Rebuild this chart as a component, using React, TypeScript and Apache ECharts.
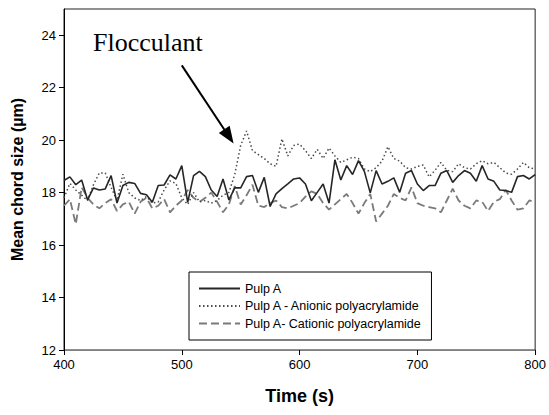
import React, { useEffect, useRef } from "react";
import * as echarts from "echarts";

const times = [
  400, 405, 410, 415, 420, 425, 430, 435, 440, 445,
  450, 455, 460, 465, 470, 475, 480, 485, 490, 495,
  500, 505, 510, 515, 520, 525, 530, 535, 540, 545,
  550, 555, 560, 565, 570, 575, 580, 585, 590, 595,
  600, 605, 610, 615, 620, 625, 630, 635, 640, 645,
  650, 655, 660, 665, 670, 675, 680, 685, 690, 695,
  700, 705, 710, 715, 720, 725, 730, 735, 740, 745,
  750, 755, 760, 765, 770, 775, 780, 785, 790, 795,
  800,
];

const pulpA = [
  18.46, 18.6, 18.3, 18.48, 17.72, 18.18, 18.1, 18.14, 18.65, 17.6,
  18.27, 18.39, 18.35, 17.97, 17.92, 17.63, 18.27, 18.29, 18.68, 18.52,
  19.03, 17.63, 18.65, 18.81, 18.61, 18.1, 17.85, 18.52, 17.72, 18.18,
  18.18, 18.61, 18.65, 18.01, 18.58, 17.47, 17.95, 18.15, 18.33, 18.52,
  18.56, 18.33, 17.69, 18.01, 18.33, 17.6, 19.25, 18.48, 19.03, 18.69,
  19.22, 18.81, 17.99, 18.84, 18.33, 18.43, 18.56, 18.01, 18.74, 18.84,
  18.33, 18.08, 18.27, 18.27, 18.74, 18.84, 18.39, 18.65, 18.84, 18.74,
  18.43, 19.03, 18.52, 18.43, 18.1, 18.08, 18.01, 18.61, 18.65, 18.52,
  18.69,
];

const anionic = [
  17.8, 18.35, 18.1, 17.9, 17.7, 18.3, 18.75, 18.75, 18.2, 17.7,
  18.7, 18.0, 17.8, 17.7, 17.85, 17.6, 17.65, 18.1, 18.45, 18.35,
  17.8, 17.55, 18.0, 17.65, 17.7, 17.6, 17.7, 17.9, 18.0, 18.7,
  19.8, 20.35, 19.6, 19.45, 19.3, 19.1, 19.0, 20.05, 19.4, 19.8,
  19.85, 19.6, 19.3, 19.65, 19.3, 19.7, 19.4, 19.15, 19.25, 19.35,
  19.3, 18.9, 18.8, 18.95, 19.2, 19.75, 19.3, 19.2, 18.95, 18.9,
  19.0, 19.05, 18.6, 18.85, 19.15, 18.85, 18.8, 19.1, 18.95, 18.9,
  19.1, 19.22, 19.1, 19.15, 18.95, 18.75, 18.7, 18.9, 19.15, 18.95,
  18.9,
];

const cationic = [
  17.5, 17.75, 16.8, 18.2, 17.8, 17.55, 17.4, 17.6, 17.75, 17.3,
  17.55, 17.65, 17.2, 17.65, 17.8, 17.4, 17.5, 17.75, 17.25, 17.5,
  17.7, 18.1, 17.8, 17.65, 17.8, 18.0, 17.65, 17.25, 17.55, 18.25,
  17.55, 17.9, 18.3, 17.5, 17.45, 17.6, 17.7, 17.45, 17.4, 17.5,
  17.6, 17.85, 18.05, 17.95, 17.6, 17.35, 17.55, 17.75, 17.95, 17.6,
  17.2, 17.6, 17.95, 16.9, 17.2, 17.5, 17.95, 17.8, 17.7, 18.2,
  17.6, 17.5, 17.45, 17.4, 17.25, 17.7, 18.15, 17.7, 17.5, 17.4,
  17.7, 17.65, 17.3, 17.65, 17.75, 18.1, 17.7, 17.35, 17.4, 17.7,
  17.65,
];

const seriesNames = [
  "Pulp A",
  "Pulp A - Anionic polyacrylamide",
  "Pulp A- Cationic polyacrylamide",
];

const yTicks = [12, 14, 16, 18, 20, 22, 24];
const xTicks = [400, 500, 600, 700, 800];

// arrow annotation endpoints in data coordinates [time, size]
const arrowFrom = [500, 22.85];
const arrowTo = [540, 20.14];
const annotationText = "Flocculant";

const pair = (vals: number[]) => times.map((t, i) => [t, vals[i]]);

export default function App() {
  const ref = useRef<HTMLDivElement>(null);
  useEffect(() => {
    if (!ref.current) return;
    const chart = echarts.init(ref.current, null, { renderer: "svg" });
    const font = "Liberation Sans, Arial, sans-serif";
    chart.setOption({
      animation: false,
      backgroundColor: "#ffffff",
      grid: {
        left: 64,
        right: 12,
        top: 9,
        bottom: 65,
        show: true,
        borderColor: "#222",
        borderWidth: 1,
        backgroundColor: "transparent",
      },
      xAxis: {
        type: "value",
        min: 400,
        max: 800,
        interval: 100,
        name: "Time (s)",
        nameLocation: "middle",
        nameGap: 37,
        nameTextStyle: { fontFamily: font, fontWeight: "bold", fontSize: 18, color: "#000" },
        axisLine: { show: true, lineStyle: { color: "#808080", width: 1 } },
        axisTick: { show: true, length: 5, lineStyle: { color: "#000" }, customValues: xTicks },
        axisLabel: { fontFamily: font, fontSize: 13, color: "#000", margin: 8, customValues: xTicks },
        splitLine: { show: false },
      },
      yAxis: {
        type: "value",
        min: 12,
        max: 25,
        interval: 2,
        name: "Mean chord size (\u00b5m)",
        nameLocation: "middle",
        nameGap: 39,
        nameTextStyle: { fontFamily: font, fontWeight: "bold", fontSize: 16, color: "#000" },
        axisLine: { show: true, lineStyle: { color: "#000", width: 1 } },
        axisTick: { show: true, length: 5, lineStyle: { color: "#000" }, customValues: yTicks },
        axisLabel: { fontFamily: font, fontSize: 13, color: "#000", margin: 8, customValues: yTicks },
        splitLine: { show: false },
      },
      legend: {
        orient: "vertical",
        left: 189,
        top: 272,
        data: seriesNames,
        backgroundColor: "#fff",
        borderColor: "#000",
        borderWidth: 1,
        padding: [10, 10, 10, 9],
        itemWidth: 41,
        itemHeight: 12,
        itemGap: 4.5,
        itemStyle: { opacity: 0 },
        textStyle: { fontFamily: font, fontSize: 12.5, color: "#000" },
      },
      series: [
        {
          name: seriesNames[0],
          type: "line",
          data: pair(pulpA),
          symbol: "none",
          lineStyle: { color: "#262626", width: 1.6, type: "solid" },
          itemStyle: { color: "#262626" },
          z: 4,
        },
        {
          name: seriesNames[1],
          type: "line",
          data: pair(anionic),
          symbol: "none",
          lineStyle: { color: "#4a4a4a", width: 1.5, type: [1.5, 2.5] },
          itemStyle: { color: "#4a4a4a" },
          z: 3,
          markLine: {
            silent: true,
            symbol: ["none", "triangle"],
            symbolSize: [13, 17],
            label: { show: false },
            lineStyle: { color: "#000", width: 2, type: "solid" },
            itemStyle: { color: "#000" },
            data: [[{ coord: arrowFrom }, { coord: arrowTo }]],
          },
        },
        {
          name: seriesNames[2],
          type: "line",
          data: pair(cationic),
          symbol: "none",
          lineStyle: { color: "#7a7a7a", width: 1.8, type: [8, 4] },
          itemStyle: { color: "#7a7a7a" },
          z: 2,
        },
      ],
      graphic: [
        {
          type: "text",
          left: 93,
          top: 29,
          style: {
            text: annotationText,
            fontFamily: "Liberation Serif, Times New Roman, serif",
            fontSize: 26,
            fill: "#000",
          },
        },
      ],
    });
    return () => chart.dispose();
  }, []);
  return (
    <div
      ref={ref}
      style={{ position: "absolute", left: 0, top: 0, width: 549, height: 415, background: "#fff" }}
    />
  );
}
